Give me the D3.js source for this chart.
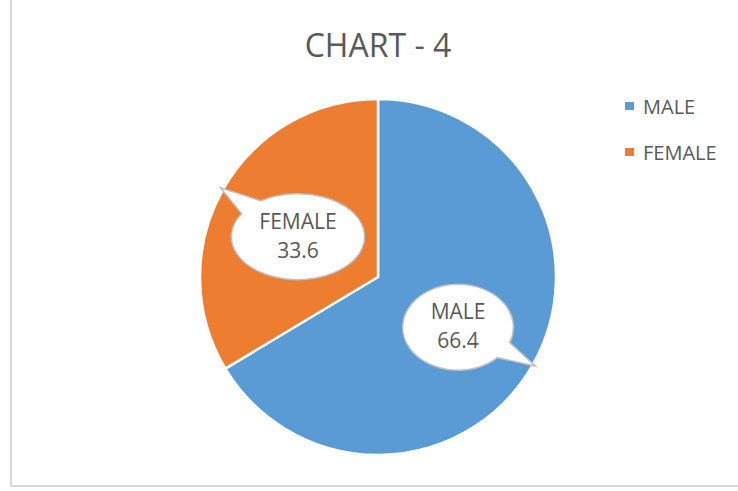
<!DOCTYPE html>
<html>
<head>
<meta charset="utf-8">
<script src="https://cdn.jsdelivr.net/npm/d3@7"></script>
<style>
  body { margin: 0; background: #fff; }
  text { font-family: "Open Sans", sans-serif; fill: #595959; }
</style>
</head>
<body>
<svg id="chart" width="738" height="491"></svg>
<script>
// data
const categories = ["MALE", "FEMALE"];
const values = [66.4, 33.6];
const colors = ["#5B9BD5", "#ED7D31"];
const title = "CHART - 4";

const W = 738, H = 491;
const cx = 378, cy = 277, R = 178;

const svg = d3.select("#chart");

// frame
svg.append("rect")
  .attr("x", 11).attr("y", -5)
  .attr("width", W).attr("height", 491)
  .attr("fill", "none")
  .attr("stroke", "#d9d9d9")
  .attr("stroke-width", 2);

svg.append("text")
  .attr("x", 378).attr("y", 57)
  .attr("text-anchor", "middle")
  .style("font-size", "32px")
  .text(title);

const color = d3.scaleOrdinal().domain(categories).range(colors);

const rows = categories.map((c, i) => ({ name: c, value: values[i] }));
const pie = d3.pie().sort(null).value(d => d.value);
const arcs = pie(rows);

const arc = d3.arc().innerRadius(0).outerRadius(R);
const labelArc = d3.arc().innerRadius(92 * 2).outerRadius(0); // centroid at r=92
const tipArc = d3.arc().innerRadius(181).outerRadius(181);

const g = svg.append("g").attr("transform", `translate(${cx},${cy})`);

g.selectAll("path.slice")
  .data(arcs)
  .join("path")
  .attr("class", "slice")
  .attr("d", arc)
  .attr("fill", d => color(d.data.name))
  .attr("stroke", "#fff")
  .attr("stroke-width", 2.5)
  .attr("stroke-linejoin", "round");

// callouts
const lab = g.selectAll("g.callout")
  .data(arcs)
  .join("g")
  .attr("class", "callout");

lab.each(function (d) {
  const el = d3.select(this);
  const [lx, ly] = labelArc.centroid(d);
  const [tx, ty] = tipArc.centroid(d);

  const bubble = el.append("path");

  const t1 = el.append("text")
    .attr("x", lx).attr("y", ly - 3)
    .attr("text-anchor", "middle")
    .style("font-size", "21px")
    .text(d.data.name);
  el.append("text")
    .attr("x", lx).attr("y", ly + 26)
    .attr("text-anchor", "middle")
    .style("font-size", "21px")
    .text(d.data.value);

  const tw = t1.node().getComputedTextLength();
  const rx = tw / 2 + 28, ry = 43;
  const ecy = ly + 5;
  const th = Math.atan2((ty - ecy) / ry, (tx - lx) / rx);
  const dl = 12 * Math.PI / 180;
  const p = a => [lx + rx * Math.cos(a), ecy + ry * Math.sin(a)];
  const b1 = p(th + dl), b2 = p(th - dl);
  bubble
    .attr("d", `M${b1[0]},${b1[1]} A${rx},${ry} 0 1 1 ${b2[0]},${b2[1]} L${tx},${ty} Z`)
    .attr("fill", "#fff")
    .attr("stroke", "#bfbfbf")
    .attr("stroke-width", 1.5);
});

// legend
const leg = svg.append("g").selectAll("g")
  .data(categories)
  .join("g")
  .attr("transform", (d, i) => `translate(625,${106 + i * 46})`);

leg.append("rect")
  .attr("x", 0).attr("y", -4)
  .attr("width", 9).attr("height", 8)
  .attr("fill", d => color(d));

leg.append("text")
  .attr("x", 18).attr("y", 8)
  .style("font-size", "20px")
  .text(d => d);
</script>
</body>
</html>
